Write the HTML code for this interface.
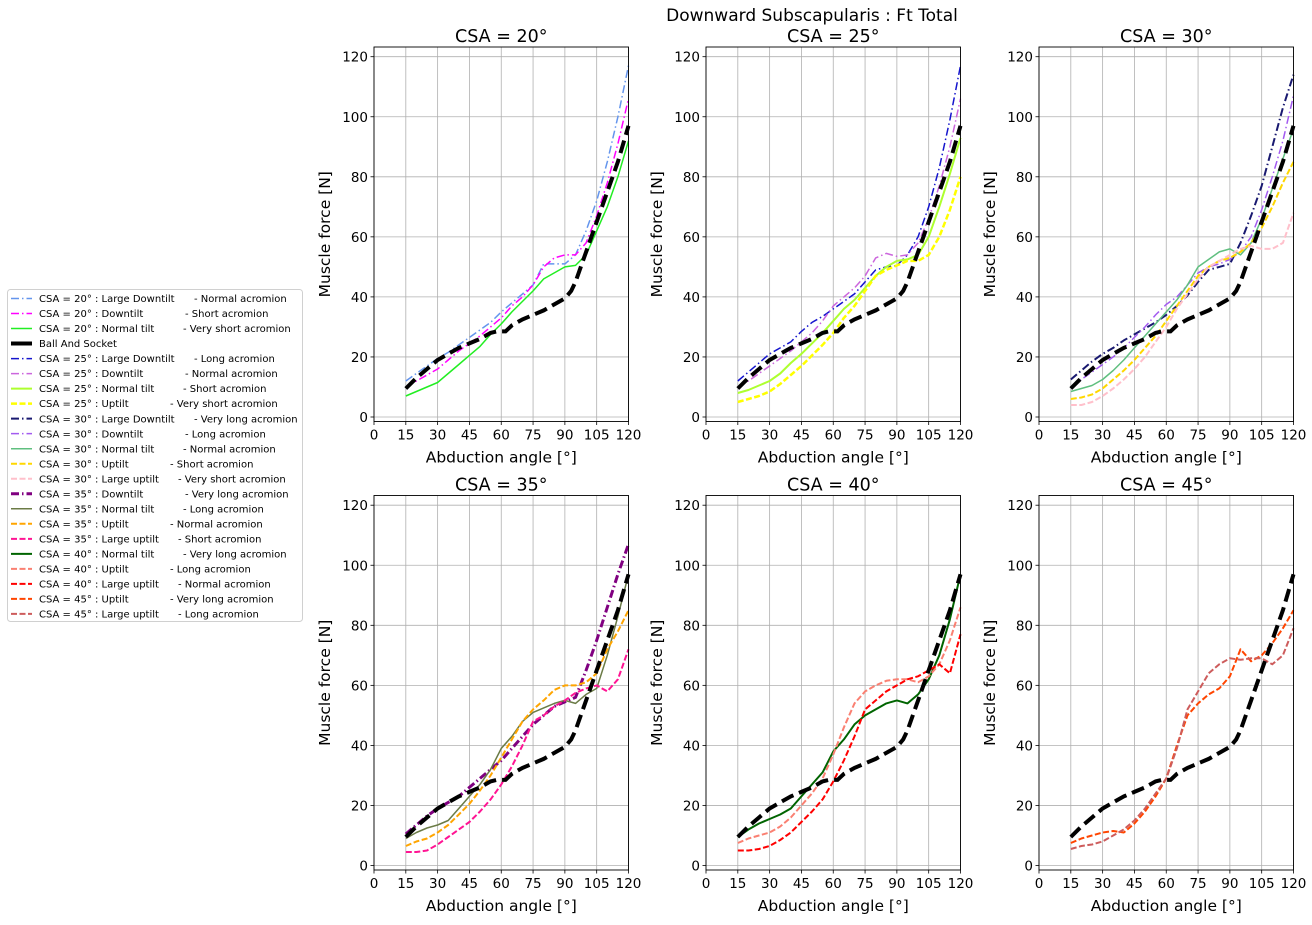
<!DOCTYPE html>
<html><head><meta charset="utf-8">
<style>
body{margin:0;background:#fff;}
svg text{font-family:"DejaVu Sans","Liberation Sans",sans-serif;fill:#000;}
</style></head>
<body>
<svg id="fig" width="1312" height="920" viewBox="0 0 1312 920" xmlns="http://www.w3.org/2000/svg">
<rect width="1312" height="920" fill="#fff"/>
<text x="812" y="21" font-size="17" text-anchor="middle">Downward Subscapularis : Ft Total</text>
</svg>
<script>
const X = [15,20,25,30,35,40,45,50,55,60,65,70,75,80,85,90,95,100,105,110,115,120];
const basX = [15,20,25,30,35,40,45,50,55,58,62,65,70,75,80,85,90,93,95,100,105,110,115,120];
const basY = [9.5,13,16,19,21,23,24.5,26,28,28.5,28.5,30.5,32.5,34,35.5,37.5,39.5,42,45,55,65,75,85,97];
const xTicks = [0,15,30,45,60,75,90,105,120];
const yTicks = [0,20,40,60,80,100,120];
const panelTitles = ["CSA = 20°","CSA = 25°","CSA = 30°","CSA = 35°","CSA = 40°","CSA = 45°"];

const s20LD = [12,14.5,17,19.5,21.5,24,26.5,29,31.5,35,38,41,44,51,51,51,54,62,72,85,100,117];
const s20DT = [10,12,14,16,19,22,24.5,27,30,33,37,40,44,50,53,54,54,58,67,78,91,106];
const s20NT = [7,8.5,10,11.5,14.5,17.5,20.5,23.5,27.5,31,35,38.5,42,46,48,50,50.5,54,62,70,80,92];
const s25LD = [12,15,18,21,23,25,28.5,31.5,33.5,36,38.5,41,45,49,50,50.5,54,60,70,83,99,117];
const s25DT = [10,12,14.5,17,19.5,22,25,28,32,37,40,43,47,53,54.5,53.5,54,58,66,77,90,106];
const s25NT = [8,9,10.5,12,14.5,18,21,24.5,28,32,36,39,43,47,50,52,52.5,54,60,70,81,93];
const s25UT = [5,6,7,8.5,11,14,17,20.5,24,28,33,37,42,47,49,50.5,52,52,54,60,69,80];
const s30LD = [12.5,15.5,18.5,21,23,25.5,27.5,29.5,31.5,34,37,40.5,45,49,50,51,58,67,77,90,103,114];
const s30DT = [10,12.5,15,17.5,20,23,26.5,30,34,37.5,40,44,48,50,51,52.5,55,60,69,80,92,107];
const s30NT = [8.5,9.5,10.5,12.5,15.5,19,23,27,31,35,39,44,50,52.5,55,56,54,58,66,76,86,96];
const s30UT = [6,6.5,7.5,9.5,12.5,15.5,19,23,27,32,37,42,47,50,52,53,55,58,63,70,78,85];
const s30LUT = [4,4,5,7,9.5,12.5,16,20,25,30,36,41,46,50,52,54,56,57,56,56,58,68];
const s35DT = [10.5,13.5,16.5,19,21,23,26,29,32,35,39,43,47,50,53,54.5,56,65,75,86,97,107];
const s35NT = [9,11,12.5,13.5,15,19,23,27,32,39,43,48,51,52.5,54,55,54,57,59,70,83,97];
const s35UT = [6.5,8,9,11,13.5,17,20.5,25,30,36,42,48,52,55,58.5,60,60,61,64,72,78,85];
const s35LUT = [4.5,4.5,5,7,9.5,12,14.5,18,22,27,33,40,48,50,53,55,57.5,59,60,58,62,72];
const s40NT = [9.5,12,14,15.5,17,19,23,27,31,38,42,47,50,52,54,55,54,57,62,70,82,97];
const s40UT = [7.5,9,10,11,13,16,20,24,29,37,46,54,58,60,61.5,62,62,61,63,67,75,86];
const s40LUT = [5,5,5.5,6.5,8.5,11,14.5,18,22,28,35,43,52,55,58,60,62,63,65,67,64,77];
const s45UT = [7.5,9,10,11,11.5,11,14,18,23,29,40,50,54,57,59,63,72,68,70,74,79,85];
const s45LUT = [5.5,6.5,7,8,10,12,15,19,24,29,39,52,58,64,67,69,68.5,69,69,67,70,79];

const DD="8,3,1.5,3", DS="6,2.5", SOL="";
const series = [
 {p:0,y:s20LD,c:"#6495ed",w:1.5,d:DD,n:"CSA = 20° : Large Downtilt",a:"-  Normal acromion",ax:194},
 {p:0,y:s20DT,c:"#ff00ff",w:1.5,d:DD,n:"CSA = 20° : Downtilt",a:"-  Short acromion",ax:185},
 {p:0,y:s20NT,c:"#22ee22",w:1.5,d:SOL,n:"CSA = 20° : Normal tilt",a:"-  Very short acromion",ax:183},
 {p:-1,n:"Ball And Socket",c:"#000",w:4,d:"13,6"},
 {p:1,y:s25LD,c:"#1515cd",w:1.5,d:DD,n:"CSA = 25° : Large Downtilt",a:"-    Long acromion",ax:194},
 {p:1,y:s25DT,c:"#cc66dd",w:1.5,d:DD,n:"CSA = 25° : Downtilt",a:"-  Normal acromion",ax:185},
 {p:1,y:s25NT,c:"#adff2f",w:2,d:SOL,n:"CSA = 25° : Normal tilt",a:"-  Short acromion",ax:183},
 {p:1,y:s25UT,c:"#ffff00",w:2.5,d:DS,n:"CSA = 25° : Uptilt",a:"-  Very short acromion",ax:170},
 {p:2,y:s30LD,c:"#191970",w:2,d:DD,n:"CSA = 30° : Large Downtilt",a:"-  Very long acromion",ax:194},
 {p:2,y:s30DT,c:"#a35bf0",w:1.5,d:DD,n:"CSA = 30° : Downtilt",a:"-    Long acromion",ax:185},
 {p:2,y:s30NT,c:"#5fbf7f",w:1.5,d:SOL,n:"CSA = 30° : Normal tilt",a:"-  Normal acromion",ax:183},
 {p:2,y:s30UT,c:"#ffd700",w:2,d:DS,n:"CSA = 30° : Uptilt",a:"-  Short acromion",ax:170},
 {p:2,y:s30LUT,c:"#ffc0cb",w:2,d:DS,n:"CSA = 30° : Large uptilt",a:"-  Very short acromion",ax:178},
 {p:3,y:s35DT,c:"#800080",w:3,d:DD,n:"CSA = 35° : Downtilt",a:"-  Very long acromion",ax:185},
 {p:3,y:s35NT,c:"#6b7b46",w:1.5,d:SOL,n:"CSA = 35° : Normal tilt",a:"-    Long acromion",ax:183},
 {p:3,y:s35UT,c:"#ffa500",w:2,d:DS,n:"CSA = 35° : Uptilt",a:"-  Normal acromion",ax:170},
 {p:3,y:s35LUT,c:"#ff1493",w:2,d:DS,n:"CSA = 35° : Large uptilt",a:"-  Short acromion",ax:178},
 {p:4,y:s40NT,c:"#006400",w:2,d:SOL,n:"CSA = 40° : Normal tilt",a:"-  Very long acromion",ax:183},
 {p:4,y:s40UT,c:"#fa8072",w:2,d:DS,n:"CSA = 40° : Uptilt",a:"-    Long acromion",ax:170},
 {p:4,y:s40LUT,c:"#ff0000",w:2,d:DS,n:"CSA = 40° : Large uptilt",a:"-  Normal acromion",ax:178},
 {p:5,y:s45UT,c:"#ff4500",w:2,d:DS,n:"CSA = 45° : Uptilt",a:"-  Very long acromion",ax:170},
 {p:5,y:s45LUT,c:"#cd5c5c",w:2,d:DS,n:"CSA = 45° : Large uptilt",a:"-    Long acromion",ax:178}
];

const NS="http://www.w3.org/2000/svg";
const fig=document.getElementById('fig');
function mk(tag,attrs,parent){const e=document.createElementNS(NS,tag);for(const k in attrs)e.setAttribute(k,attrs[k]);(parent||fig).appendChild(e);return e;}
const colL=[374,706,1039], W=254.5, rowTop=[47,495.5], H=374.5;
function xs(p,v){return colL[p%3]+v/120*W;}
function ys(p,v){const r=Math.floor(p/3);const y0=rowTop[r]+370;return y0-v*3.0025;}

for(let p=0;p<6;p++){
  const g=mk('g',{});
  
  
  const L=colL[p%3], T=rowTop[Math.floor(p/3)];
  xTicks.forEach(t=>{const x=xs(p,t);
    const gl=mk('line',{x1:x,x2:x,y1:T,y2:T+H,stroke:'#b0b0b0','stroke-width':0.8},g);
    
    mk('line',{x1:x,x2:x,y1:T+H,y2:T+H+3.5,stroke:'#000','stroke-width':0.8},g);
    const tx=mk('text',{x:x,y:T+H+18,'font-size':13.5,'text-anchor':'middle'},g);tx.textContent=t;
    
  });
  yTicks.forEach(t=>{const y=ys(p,t);
    const gl=mk('line',{x1:L,x2:L+W,y1:y,y2:y,stroke:'#b0b0b0','stroke-width':0.8},g);
    
    mk('line',{x1:L-3.5,x2:L,y1:y,y2:y,stroke:'#000','stroke-width':0.8},g);
    const tx=mk('text',{x:L-6,y:y+5,'font-size':13.5,'text-anchor':'end'},g);tx.textContent=t;
    
  });
  const list=series.filter(s=>s.p===p);
  list.forEach(s=>{
    const pts=X.map((xv,i)=>xs(p,xv).toFixed(1)+','+ys(p,s.y[i]).toFixed(1)).join(' ');
    const pl=mk('polyline',{points:pts,fill:'none',stroke:s.c,'stroke-width':s.w,'stroke-dasharray':s.d,'stroke-linejoin':'round'},g);
    
  });
  const bp=basX.map((xv,i)=>xs(p,xv).toFixed(1)+','+ys(p,basY[i]).toFixed(1)).join(' ');
  const bl=mk('polyline',{points:bp,fill:'none',stroke:'#000','stroke-width':4,'stroke-dasharray':'13,6'},g);
  
  mk('rect',{x:L,y:T,width:W,height:H,fill:'none',stroke:'#000','stroke-width':0.9},g);
  const tt=mk('text',{x:L+W/2,y:T-5,'font-size':17.5,'text-anchor':'middle'},g);tt.textContent=panelTitles[p];
  
  const xl=mk('text',{x:L+W/2,y:T+H+41,'font-size':15.5,'text-anchor':'middle'},g);xl.textContent='Abduction angle [°]';
  
  const cy=T+H/2;
  const yl=mk('text',{x:L-44,y:cy,'font-size':15.5,'text-anchor':'middle',transform:`rotate(-90 ${L-44} ${cy})`},g);yl.textContent='Muscle force [N]';
  
}

// legend
const lg=mk('g',{});


mk('rect',{x:7.5,y:289.5,width:295,height:332,rx:3,fill:'#fff',stroke:'#d0d0d0','stroke-width':1},lg);
series.forEach((s,i)=>{
  const y=298.5+i*15.02;
  const ln=mk('line',{x1:11,x2:32,y1:y,y2:y,stroke:s.c,'stroke-width':s.w,'stroke-dasharray':s.p===-1?'':s.d},lg);
  
  const t=mk('text',{x:39,y:y+3.6,'font-size':10},lg);
  t.textContent=s.n;
  
  if(s.a){const t2=mk('text',{x:s.ax,y:y+3.6,'font-size':10,'xml:space':'preserve'},lg);t2.textContent=s.a;
    }
});
</script>
</body></html>
